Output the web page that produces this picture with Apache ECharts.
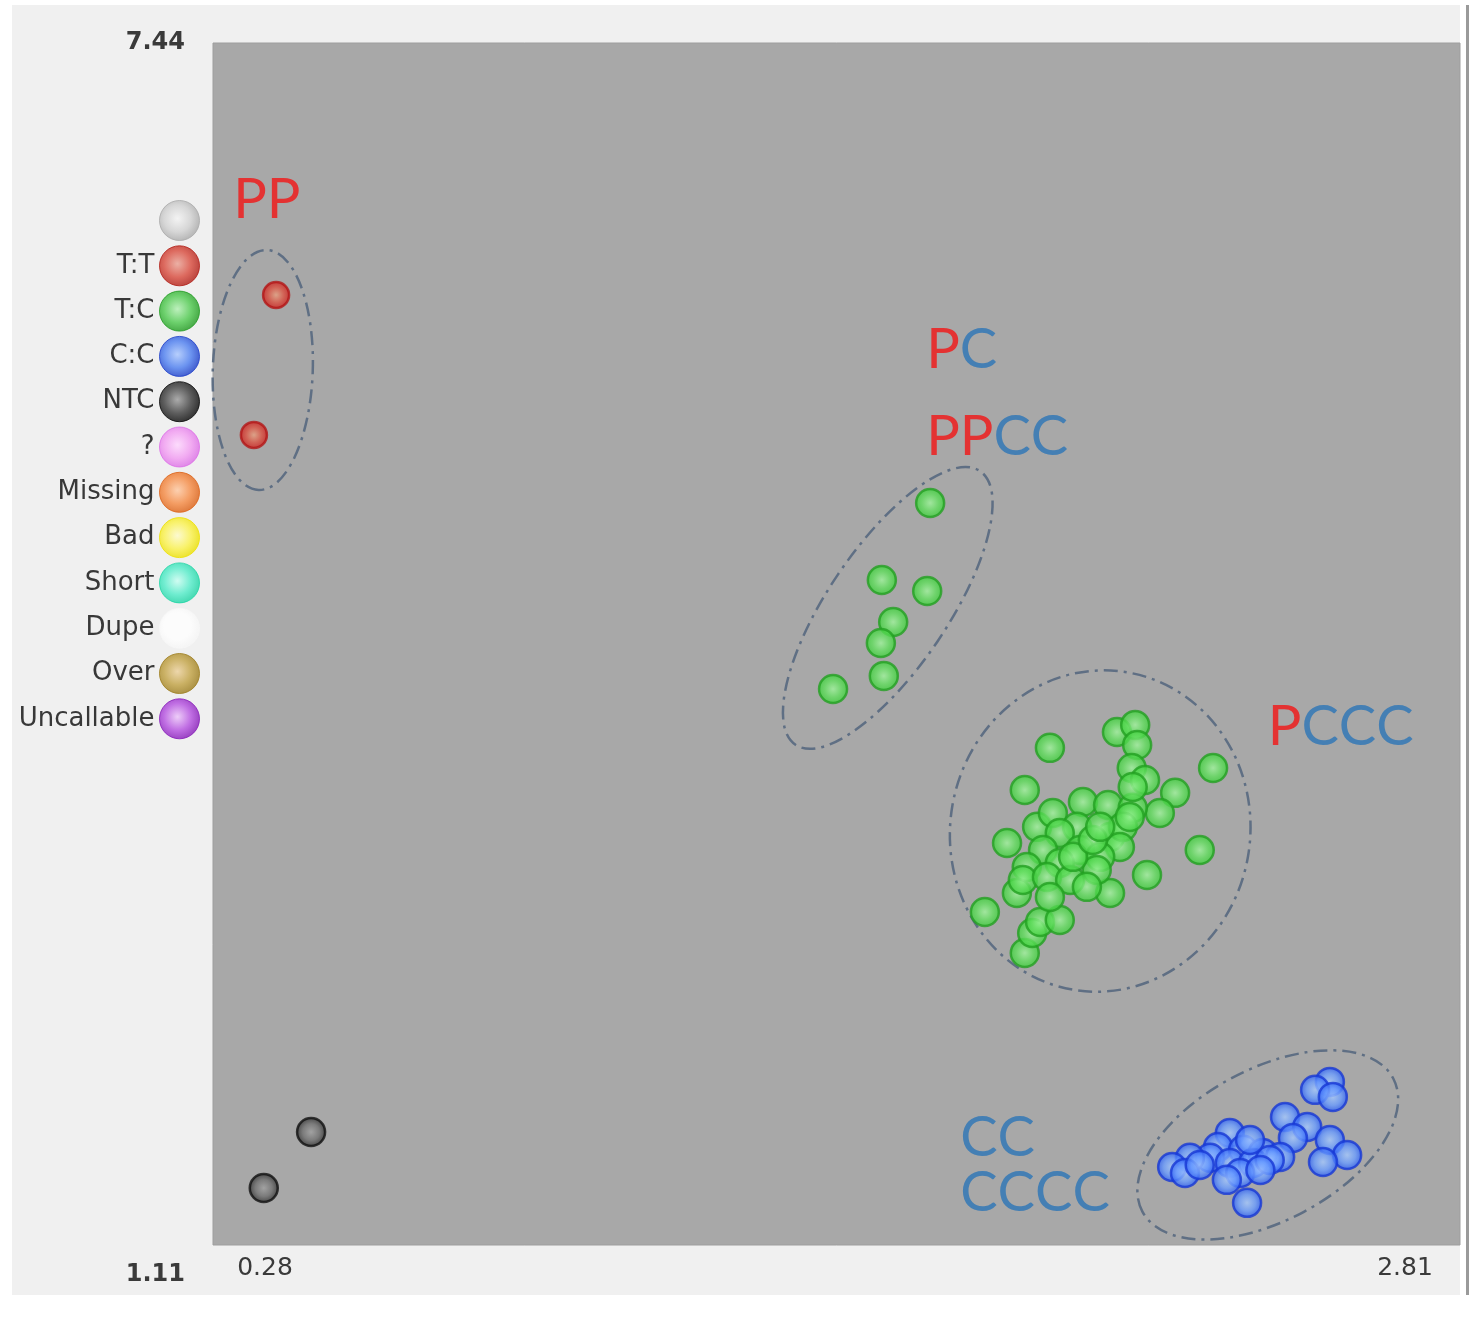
<!DOCTYPE html>
<html>
<head>
<meta charset="utf-8">
<script src="https://cdn.jsdelivr.net/npm/echarts@6/dist/echarts.min.js"></script>
<style>
  html, body { margin: 0; padding: 0; background: #ffffff; }
  #panel { position: absolute; left: 12px; top: 5px; width: 1448px; height: 1290px; background: #f0f0f0; }
  #edge { position: absolute; left: 1466px; top: 5px; width: 3px; height: 1290px; background: #9a9a9a; }
  #chart { position: absolute; left: 0; top: 0; width: 1481px; height: 1332px; }
</style>
</head>
<body>
<div id="panel"></div>
<div id="edge"></div>
<div id="chart"></div>
<script>
// axis range (only min / max are labelled)
var xMin = 0.28, xMax = 2.81;
var yMin = 1.11, yMax = 7.44;

// legend categories
var categories = [' ', 'T:T', 'T:C', 'C:C', 'NTC', '?', 'Missing', 'Bad', 'Short', 'Dupe', 'Over', 'Uncallable'];

// genotype calls [x, y]
var ttPoints = [[0.408, 6.113], [0.363, 5.376]];
var ntcPoints = [[0.479, 1.705], [0.383, 1.410]];
var tcPoints = [
  // upper group
  [1.735, 5.018], [1.637, 4.612], [1.729, 4.554], [1.660, 4.391], [1.635, 4.280], [1.641, 4.107], [1.538, 4.038],
  // main group
  [1.978, 3.728], [1.927, 3.506], [2.114, 3.812], [2.151, 3.849], [2.155, 3.743], [2.144, 3.622], [2.171, 3.559],
  [2.309, 3.622], [2.232, 3.491], [2.201, 3.385], [2.282, 3.190], [2.175, 3.059], [2.100, 2.964], [1.846, 2.864],
  [1.927, 2.648], [1.942, 2.753], [1.958, 2.811], [1.998, 2.822], [1.911, 2.964], [1.891, 3.227], [1.952, 3.312],
  [1.984, 3.385], [2.045, 3.443], [2.096, 3.427], [2.146, 3.412], [2.033, 3.312], [1.998, 3.280], [1.964, 3.190],
  [2.039, 3.190], [2.100, 3.259], [2.126, 3.312], [2.120, 3.206], [2.080, 3.154], [1.998, 3.122], [1.931, 3.101],
  [1.923, 3.032], [1.972, 3.048], [2.019, 3.032], [2.073, 3.085], [2.025, 3.154], [2.065, 3.243], [2.080, 3.312],
  [2.146, 3.522], [2.140, 3.364], [1.978, 2.943], [2.053, 2.996]
];
var ccPoints = [
  [2.546, 1.969], [2.516, 1.927], [2.552, 1.890], [2.455, 1.784], [2.500, 1.732], [2.471, 1.674], [2.546, 1.663],
  [2.581, 1.584], [2.532, 1.547], [2.343, 1.700], [2.319, 1.626], [2.370, 1.611], [2.410, 1.595], [2.445, 1.574],
  [2.303, 1.569], [2.343, 1.542], [2.390, 1.542], [2.364, 1.489], [2.262, 1.569], [2.226, 1.521], [2.252, 1.489],
  [2.337, 1.453], [2.378, 1.332], [2.424, 1.558], [2.282, 1.531], [2.405, 1.505], [2.384, 1.663]
];

// dashed cluster outlines: centre x, centre y, semi axes (x units), angle (deg, ccw)
var ringX = [0.381, 1.649, 2.080, 2.420];
var ringY = [5.718, 4.465, 3.290, 1.637];
var ringA = [0.2435, 0.3348, 0.3266, 0.2881];
var ringB = [0.1014, 0.1217, 0.3043, 0.1542];
var ringAngle = [88, 56, 80, 28];

// genotype annotations (left edge x, middle y)
var noteText = ['PP', 'PC', 'PPCC', 'PCCC', 'CC', 'CCCC'];
var noteX = [0.321, 1.727, 1.727, 2.420, 1.796, 1.796];
var noteY = [6.613, 5.823, 5.365, 3.838, 1.674, 1.384];

function ball(inner, mid, outer) {
  return {
    type: 'radial', x: 0.5, y: 0.5, r: 0.5,
    colorStops: [{ offset: 0, color: inner }, { offset: 0.55, color: mid }, { offset: 1, color: outer }]
  };
}

// legend sphere colours
var legendColors = {
  ' ': ['#f4f4f4', '#d0d0d0', '#a9a9a9'],
  'T:T': ['#eaa092', '#d8483a', '#b01c14'],
  'T:C': ['#b0f0b0', '#4cc94c', '#1f9a1f'],
  'C:C': ['#a8c6ff', '#4a7cf0', '#1a3cc8'],
  'NTC': ['#9a9a9a', '#3a3a3a', '#060606'],
  '?': ['#ffd6ff', '#f29af2', '#dc6ee6'],
  'Missing': ['#ffc8a0', '#f58840', '#dc6014'],
  'Bad': ['#fffcc8', '#fbf24a', '#ece000'],
  'Short': ['#c8fff2', '#50ecc8', '#1ed4a4'],
  'Dupe': ['#ffffff', '#ffffff', '#f6f6f6'],
  'Over': ['#ecd09a', '#c0a040', '#9c7c1c'],
  'Uncallable': ['#ecc4fa', '#b44ee0', '#861ab8']
};

var chart = echarts.init(document.getElementById('chart'));

var pointSeries = {
  'T:T': { data: ttPoints, size: 26, style: ball('#e8a080', '#dc5040', '#c81c1c'), border: '#b31616' },
  'T:C': { data: tcPoints, size: 28, style: ball('#a0f59c', '#62df5e', '#3ccc3a'), border: '#23a022' },
  'C:C': { data: ccPoints, size: 28, style: ball('#a4c8ff', '#6a9cff', '#2a5af0'), border: '#1838d4' },
  'NTC': { data: ntcPoints, size: 28, style: ball('#a0a0a0', '#707070', '#2a2a2a'), border: '#111111' }
};

var series = categories.map(function (name) {
  var p = pointSeries[name];
  return {
    name: name,
    type: 'scatter',
    symbol: 'circle',
    symbolSize: p ? p.size : 20,
    data: p ? p.data : [],
    z: 3,
    itemStyle: p ? { color: p.style, borderColor: p.border, borderWidth: 2.5 } : { color: legendColors[name][1] },
    emphasis: { disabled: true }
  };
});

// cluster outlines
series.push({
  name: 'outline',
  type: 'custom',
  silent: true,
  z: 2,
  encode: { x: 0, y: 1 },
  data: ringX.map(function (x, i) { return [x, ringY[i], ringA[i], ringB[i], ringAngle[i]]; }),
  renderItem: function (params, api) {
    var c = api.coord([api.value(0), api.value(1)]);
    var a = api.size([api.value(2), 0])[0];
    var b = api.size([api.value(3), 0])[0];
    return {
      type: 'ellipse',
      x: c[0], y: c[1],
      rotation: api.value(4) * Math.PI / 180,
      shape: { cx: 0, cy: 0, rx: a, ry: b },
      style: { fill: 'none', stroke: '#5f6f84', lineWidth: 2.5, lineDash: [14, 6, 3, 6] }
    };
  }
});

// genotype annotations
series.push({
  name: 'notes',
  type: 'scatter',
  silent: true,
  symbolSize: 0,
  z: 4,
  data: noteText.map(function (t, i) { return { name: t, value: [noteX[i], noteY[i]] }; }),
  label: {
    show: true,
    position: 'right',
    distance: 0,
    formatter: function (p) {
      return p.name.split('').map(function (ch) { return ch === 'P' ? '{p|P}' : '{c|C}'; }).join('');
    },
    rich: {
      p: { color: '#f21414', fontSize: 56, fontFamily: 'Lato', lineHeight: 60 },
      c: { color: '#2a74b6', fontSize: 56, fontFamily: 'Lato', lineHeight: 60 }
    }
  },
  emphasis: { disabled: true }
});

chart.setOption({
  animation: false,
  grid: {
    left: 213, top: 43, right: 21, bottom: 87,
    show: true, backgroundColor: '#a8a8a8', borderWidth: 1, borderColor: '#9e9e9e'
  },
  legend: {
    data: categories.map(function (name) {
      var c = legendColors[name];
      return {
        name: name,
        itemStyle: {
          color: { type: 'radial', x: 0.45, y: 0.45, r: 0.55,
            colorStops: [{ offset: 0, color: c[0] }, { offset: 0.6, color: c[1] }, { offset: 1, color: c[2] }] },
          borderColor: c[2], borderWidth: 1
        }
      };
    }),
    orient: 'vertical',
    align: 'right',
    padding: 0,
    right: 1281,
    top: 200,
    icon: 'circle',
    itemWidth: 40,
    itemHeight: 40,
    itemGap: 4.3,
    selectedMode: false,
    textStyle: { fontSize: 26, fontFamily: 'DejaVu Sans', color: '#383838' }
  },
  xAxis: {
    type: 'value',
    min: xMin, max: xMax, interval: xMax - xMin,
    axisLine: { show: false }, axisTick: { show: false }, splitLine: { show: false },
    axisLabel: {
      margin: 11,
      formatter: function (v) { return v < 1.5 ? '{lo|' + xMin.toFixed(2) + '}' : '{hi|' + xMax.toFixed(2) + '}'; },
      rich: {
        lo: { fontSize: 25, fontFamily: 'DejaVu Sans', color: '#3a3a3a', padding: [0, 0, 0, 104] },
        hi: { fontSize: 25, fontFamily: 'DejaVu Sans', color: '#3a3a3a', padding: [0, 110, 0, 0] }
      }
    }
  },
  yAxis: {
    type: 'value',
    min: yMin, max: yMax, interval: yMax - yMin,
    axisLine: { show: false }, axisTick: { show: false }, splitLine: { show: false },
    axisLabel: {
      margin: 28,
      formatter: function (v) { return v < 4 ? '{lo|' + yMin.toFixed(2) + '}' : '{hi|' + yMax.toFixed(2) + '}'; },
      rich: {
        lo: { fontSize: 24, fontFamily: 'DejaVu Sans', fontWeight: 'bold', color: '#3a3a3a', padding: [60, 0, 0, 0] },
        hi: { fontSize: 24, fontFamily: 'DejaVu Sans', fontWeight: 'bold', color: '#3a3a3a' }
      }
    }
  },
  series: series
});
</script>
</body>
</html>
